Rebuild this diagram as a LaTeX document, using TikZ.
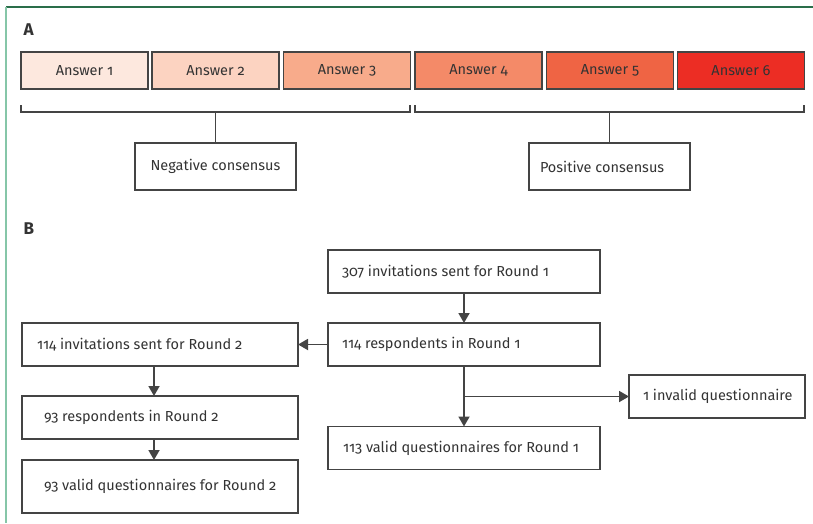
\documentclass[tikz,border=0pt]{standalone}
\usepackage{fontspec}
\setmainfont{Fira Sans}[Numbers=OldStyle]
\usetikzlibrary{arrows.meta}
\definecolor{txt}{HTML}{333333}
\definecolor{edge}{HTML}{444444}
\definecolor{c1}{HTML}{FDE8DE}
\definecolor{c2}{HTML}{FCD3C1}
\definecolor{c3}{HTML}{F8AB8B}
\definecolor{c4}{HTML}{F48A68}
\definecolor{c5}{HTML}{EF6444}
\definecolor{c6}{HTML}{EC2D24}
\definecolor{topgreen}{HTML}{2A6E4A}
\definecolor{leftgreen}{HTML}{86C6A8}
\newcommand{\padtext}[3]{\makebox[#1][l]{\hspace*{#2}#3}}
\begin{document}
\begin{tikzpicture}[x=1pt,y=-1pt,
  every node/.style={font=\fontsize{14.5}{17}\selectfont, text=txt},
  abox/.style={draw=edge, line width=1.8pt, minimum width=127pt, minimum height=37pt, inner sep=0pt, outer sep=0pt},
  cbox/.style={draw=edge, line width=1.8pt, minimum width=161pt, minimum height=47pt, inner sep=0pt, outer sep=0pt},
  fbox/.style={draw=edge, line width=1.8pt, minimum height=43pt, inner sep=0pt, outer sep=0pt},
  conn/.style={draw=edge, line width=1.8pt},
  arr/.style={conn, -{Triangle[length=10pt,width=11pt]}},
  panel/.style={font=\fontsize{17}{19}\selectfont\bfseries, text=txt}
]
\useasboundingbox (0,0) rectangle (813,523);
% frame
\draw[topgreen, line width=1.5pt] (6,7) -- (813,7);
\draw[leftgreen, line width=2pt] (6,7) -- (6,523);

% Panel A
\node[panel, anchor=west] (la) at (20,30) {A};
\node[abox, fill=c1] (a1) at (84.5,70.5) {Answer 1};
\node[abox, fill=c2] (a2) at (215.5,70.5) {Answer 2};
\node[abox, fill=c3] (a3) at (347,70.5) {Answer 3};
\node[abox, fill=c4] (a4) at (478.5,70.5) {Answer 4};
\node[abox, fill=c5] (a5) at (610,70.5) {Answer 5};
\node[abox, fill=c6] (a6) at (741,70.5) {Answer 6};

\node[cbox] (neg) at (215.5,166.5) {Negative consensus};
\node[cbox] (pos) at (609.5,166.5) {\padtext{161pt}{11pt}{Positive consensus}};

\coordinate (nl) at (21,105);
\coordinate (nr) at (410,105);
\coordinate (nm) at (215.5,112);
\coordinate (pl) at (415,105);
\coordinate (pr) at (804,105);
\coordinate (pm) at (609.5,112);
\draw[conn] (nl) -- (21,112) -- (410,112) -- (nr);
\draw[conn] (pl) -- (415,112) -- (804,112) -- (pr);
\draw[conn] (nm) -- (neg.north);
\draw[conn] (pm) -- (pos.north);

% Panel B
\node[panel, anchor=west] (lb) at (20,229) {B};
\node[fbox] (r1inv) at (464,271.5) {\padtext{272pt}{14pt}{307 invitations sent for Round 1}};
\node[fbox] (r1resp) at (464,344.5) {\padtext{272pt}{14pt}{114 respondents in Round 1}};
\node[fbox] (r1valid) at (464,448) {\padtext{272pt}{15pt}{113 valid questionnaires for Round 1}};
\node[fbox] (invalid) at (717,396.5) {\padtext{176pt}{14pt}{1 invalid questionnaire}};
\node[fbox] (r2inv) at (160,344.5) {\padtext{276pt}{15pt}{114 invitations sent for Round 2}};
\node[fbox] (r2resp) at (160,417.5) {\padtext{276pt}{22pt}{93 respondents in Round 2}};
\node[fbox, minimum height=53pt] (r2valid) at (160,486.5) {\padtext{276pt}{22pt}{93 valid questionnaires for Round 2}};

\coordinate (br) at (464,396.5);
\draw[arr] (r1inv) -- (r1resp);
\draw[arr] (r1resp) -- (r1valid);
\draw[arr] (br) -- (invalid.west);
\draw[arr] (r1resp.west) -- (r2inv.east);
\draw[arr] (r2inv.south -| 154,0) -- (r2resp.north -| 154,0);
\draw[arr] (r2resp.south -| 154,0) -- (r2valid.north -| 154,0);
\end{tikzpicture}
\end{document}
